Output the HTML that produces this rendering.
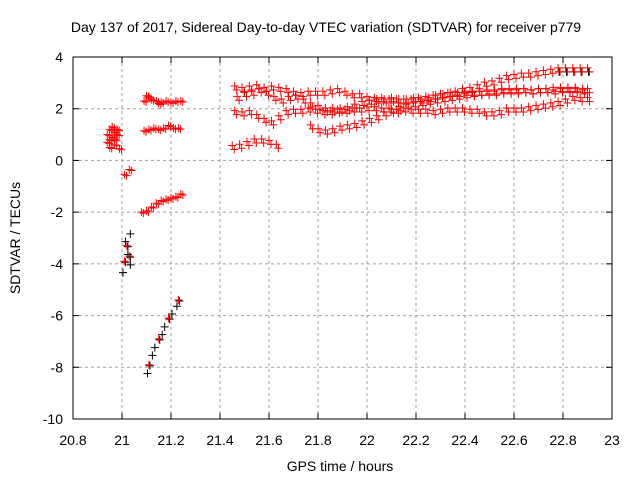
<!DOCTYPE html>
<html><head><meta charset="utf-8"><style>
body{margin:0;background:#fff}
svg text{font-family:"Liberation Sans",sans-serif;font-size:14px;fill:#000}
</style></head><body>
<svg id="chart" width="640" height="480" xmlns="http://www.w3.org/2000/svg">
<rect width="640" height="480" fill="#fff"/>
<text x="326" y="32" text-anchor="middle">Day 137 of 2017, Sidereal Day-to-day VTEC variation (SDTVAR) for receiver p779</text>
<text transform="translate(20,238) rotate(-90)" text-anchor="middle">SDTVAR / TECUs</text>
<text x="340" y="471" text-anchor="middle">GPS time / hours</text>
<g id="grid"></g>
<g id="ticks"></g>
<g id="marks"></g>
<rect x="73" y="57" width="539" height="362" fill="none" stroke="#000" stroke-width="1"/>
</svg>
<script>
const xTicks=[20.8,21,21.2,21.4,21.6,21.8,22,22.2,22.4,22.6,22.8,23];
const xTickLabels=["20.8","21","21.2","21.4","21.6","21.8","22","22.2","22.4","22.6","22.8","23"];
const yTicks=[-10,-8,-6,-4,-2,0,2,4];
const yTickLabels=["-10","-8","-6","-4","-2","0","2","4"];
const trackA=[[21.46,2.8],[21.49,2.75],[21.52,2.8],[21.55,2.85],[21.58,2.75],[21.61,2.8],[21.64,2.75],[21.67,2.7],[21.70,2.6],[21.73,2.55],[21.76,2.6],[21.79,2.6],[21.82,2.6],[21.85,2.65],[21.88,2.7],[21.91,2.6],[21.94,2.5],[21.97,2.5],[22.00,2.4],[22.03,2.35],[22.06,2.35],[22.09,2.3],[22.12,2.3],[22.15,2.3],[22.18,2.3],[22.21,2.35],[22.24,2.4],[22.27,2.45],[22.30,2.5],[22.33,2.55],[22.36,2.6],[22.39,2.7],[22.42,2.75],[22.45,2.85],[22.48,2.95],[22.51,3.0],[22.54,3.1],[22.57,3.2],[22.60,3.25],[22.63,3.3],[22.66,3.3],[22.69,3.35],[22.72,3.4],[22.75,3.45],[22.78,3.5],[22.81,3.5],[22.84,3.5],[22.87,3.5],[22.90,3.5]];
const trackB=[[21.46,1.85],[21.49,1.8],[21.52,1.85],[21.55,1.7],[21.58,1.55],[21.61,1.45],[21.64,1.65],[21.67,1.85],[21.70,1.9],[21.73,1.9],[21.76,1.95],[21.79,1.9],[21.82,1.85],[21.85,1.85],[21.88,1.9],[21.91,1.9],[21.94,1.95],[21.97,1.95],[22.00,2.0],[22.03,2.0],[22.06,1.95],[22.09,1.95],[22.12,1.9],[22.15,1.95],[22.18,1.9],[22.21,1.9],[22.24,1.9],[22.27,1.85],[22.30,1.9],[22.33,1.95],[22.36,1.95],[22.39,1.95],[22.42,1.9],[22.45,1.9],[22.48,1.8],[22.51,1.8],[22.54,1.85],[22.57,1.95],[22.60,1.95],[22.63,1.95],[22.66,2.0],[22.69,2.05],[22.72,2.1],[22.75,2.15],[22.78,2.2],[22.81,2.3],[22.84,2.4],[22.87,2.35],[22.90,2.35]];
const trackC=[[21.47,2.4],[21.50,2.55],[21.53,2.6],[21.56,2.7],[21.59,2.6],[21.62,2.4],[21.65,2.3],[21.68,2.4],[21.71,2.45],[21.74,2.3],[21.77,2.15],[21.80,2.05],[21.83,1.95],[21.86,1.95],[21.89,1.95],[21.92,2.0],[21.95,2.1],[21.98,2.2],[22.01,2.25],[22.04,2.3],[22.07,2.3],[22.10,2.35],[22.13,2.3],[22.16,2.3],[22.19,2.35],[22.22,2.3],[22.25,2.35],[22.28,2.45],[22.31,2.5],[22.34,2.55],[22.37,2.55],[22.40,2.6],[22.43,2.6],[22.46,2.6],[22.49,2.65],[22.52,2.6],[22.55,2.65],[22.58,2.65],[22.61,2.65],[22.64,2.7],[22.67,2.65],[22.70,2.7],[22.73,2.7],[22.76,2.75],[22.79,2.75],[22.82,2.75],[22.85,2.75],[22.88,2.7],[22.90,2.7]];
const trackD=[[21.77,1.3],[21.80,1.15],[21.83,1.1],[21.86,1.15],[21.89,1.25],[21.92,1.3],[21.95,1.35],[21.98,1.45],[22.01,1.55],[22.04,1.65],[22.07,1.8],[22.10,1.9],[22.13,2.0],[22.16,2.1],[22.19,2.15],[22.22,2.2],[22.25,2.25],[22.28,2.3],[22.31,2.35],[22.34,2.4],[22.37,2.45],[22.40,2.5],[22.43,2.55],[22.46,2.6],[22.49,2.6],[22.52,2.65],[22.55,2.7],[22.58,2.7],[22.61,2.7],[22.64,2.7],[22.67,2.65],[22.70,2.7],[22.73,2.7],[22.76,2.65],[22.79,2.7],[22.82,2.7],[22.85,2.7],[22.88,2.65]];
const trackE=[[21.45,0.5],[21.48,0.55],[21.51,0.65],[21.54,0.75],[21.57,0.75],[21.60,0.7],[21.63,0.55]];
const left1=[[20.94,0.7],[20.94,1.0],[20.95,1.2],[20.95,0.5],[20.96,0.9],[20.96,1.3],[20.97,1.1],[20.97,0.6],[20.98,1.0],[20.98,1.2],[20.99,0.45],[20.95,0.8],[20.97,0.8]];
const left2=[[21.09,2.3],[21.10,2.5],[21.11,2.45],[21.12,2.35],[21.14,2.3],[21.15,2.2],[21.16,2.25],[21.18,2.3],[21.20,2.25],[21.22,2.3],[21.24,2.3]];
const left3=[[21.09,1.15],[21.11,1.2],[21.13,1.25],[21.15,1.2],[21.17,1.25],[21.19,1.35],[21.21,1.25],[21.23,1.25]];
const left4=[[21.01,-0.55],[21.03,-0.35]];
const left5=[[21.08,-2.0],[21.10,-1.95],[21.12,-1.8],[21.14,-1.65],[21.16,-1.55],[21.18,-1.5],[21.20,-1.45],[21.22,-1.4],[21.24,-1.3]];
const left6=[[21.01,-3.1],[21.02,-3.3],[21.03,-2.8],[21.02,-3.6],[21.01,-3.9],[21.03,-4.0],[21.00,-4.3],[21.03,-3.7]];
const left7=[[21.10,-8.2],[21.11,-7.9],[21.12,-7.5],[21.13,-7.2],[21.15,-6.9],[21.16,-6.7],[21.17,-6.4],[21.19,-6.1],[21.20,-5.9],[21.22,-5.6],[21.23,-5.4]];

const X0=73,X1=612,Y0=419,Y1=57,xmin=20.8,xmax=23,ymin=-10,ymax=4;
const sx=v=>X0+(v-xmin)/(xmax-xmin)*(X1-X0);
const sy=v=>Y0-(v-ymin)/(ymax-ymin)*(Y0-Y1);
const NS='http://www.w3.org/2000/svg';
const grid=document.getElementById('grid'),ticks=document.getElementById('ticks'),marks=document.getElementById('marks');
function mk(tag,attrs,parent){const e=document.createElementNS(NS,tag);for(const k in attrs)e.setAttribute(k,attrs[k]);parent.appendChild(e);return e;}
xTicks.forEach((t,i)=>{const x=sx(t);
 if(i>0&&i<xTicks.length-1){const g=mk('line',{x1:x,x2:x,y1:Y1,y2:Y0,stroke:'#a0a0a0','stroke-dasharray':'3,3'},grid);
 
 }
 mk('line',{x1:x,x2:x,y1:Y0,y2:Y0-6,stroke:'#000'},ticks);mk('line',{x1:x,x2:x,y1:Y1,y2:Y1+6,stroke:'#000'},ticks);
 const tx=mk('text',{x:x,y:445,'text-anchor':'middle'},ticks);tx.textContent=xTickLabels[i];
 
 });
yTicks.forEach((t,i)=>{const y=sy(t);
 if(i>0&&i<yTicks.length-1){const g=mk('line',{x1:X0,x2:X1,y1:y,y2:y,stroke:'#a0a0a0','stroke-dasharray':'3,3'},grid);
 
 }
 mk('line',{x1:X0,x2:X0+6,y1:y,y2:y,stroke:'#000'},ticks);mk('line',{x1:X1,x2:X1-6,y1:y,y2:y,stroke:'#000'},ticks);
 const tx=mk('text',{x:63,y:y+5,'text-anchor':'end'},ticks);tx.textContent=yTickLabels[i];
 
 });
function plus(x,y,c){const p=mk('path',{d:`M${x-4},${y}h8M${x},${y-4}v8`,stroke:c,'stroke-width':1,fill:'none'},marks);
 
 }
// black satellites underneath
[left6,left7].forEach(tr=>tr.forEach(([a,b])=>plus(sx(a)+1,sy(b)+1,'#000')));
trackA.forEach(([a,b])=>{if(a>22.75)plus(sx(a)+1,sy(b)+2,'#000');});
// red: right tracks drawn as thick bands of overlapping satellites
[trackA,trackB,trackC,trackD,trackE].forEach(tr=>tr.forEach(([a,b])=>{
 plus(sx(a),sy(b)-2,'#ff0000');plus(sx(a)+2,sy(b)+2,'#ff0000');}));
[left1,left2,left3,left4,left5].forEach(tr=>tr.forEach(([a,b])=>{
 plus(sx(a),sy(b),'#ff0000');plus(sx(a)+2,sy(b)+1,'#ff0000');}));
[left6,left7].forEach(tr=>tr.forEach(([a,b],i)=>{if(i%3===1)plus(sx(a),sy(b),'#ff0000');}));
</script>
</body></html>
